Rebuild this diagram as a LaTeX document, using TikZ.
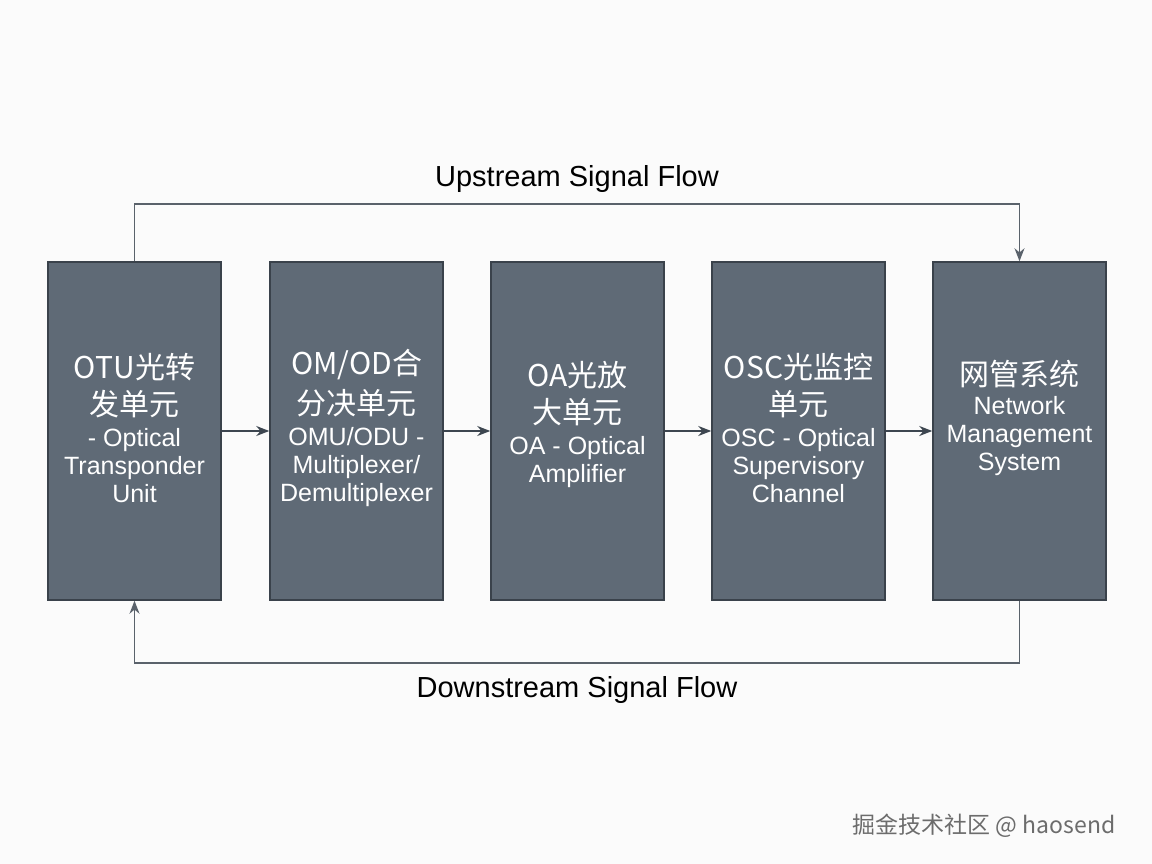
\documentclass[tikz,border=0pt]{standalone}
\usepackage{fontspec}
\setmainfont{Liberation Sans}
\newfontfamily\cjk{Noto Sans CJK SC}
\usetikzlibrary{arrows.meta}
\newcommand\Bt[1]{{\cjk\fontsize{30}{28}\selectfont #1}}
\newcommand\St[1]{{\fontsize{25}{28}\selectfont #1}}
\begin{document}
\begin{tikzpicture}[x=1pt,y=-1pt,
  box/.style={draw=boxline,fill=boxfill,line width=1.5pt,minimum width=173pt,minimum height=338pt,inner sep=0pt},
  txt/.style={text=white,align=center,font=\fontsize{25}{28}\selectfont},
  arr/.style={draw=linecol,line width=1.6pt,-{Stealth[length=13pt,width=10pt]}},
  flow/.style={draw=flowcol,line width=1.2pt,-{Stealth[length=13pt,width=10pt]}}]
\definecolor{boxfill}{HTML}{5F6A76}
\definecolor{boxline}{HTML}{3A424B}
\definecolor{linecol}{HTML}{3D4650}
\definecolor{flowcol}{HTML}{5A626B}
\fill[white!97!gray] (0,0) rectangle (1152,864);
\useasboundingbox (0,0) rectangle (1152,864);
\node[box] (b1) at (134.5,431) {};
\node[box] (b2) at (356.5,431) {};
\node[box] (b3) at (577.5,431) {};
\node[box] (b4) at (798.5,431) {};
\node[box] (b5) at (1019.5,431) {};
\node[txt] (t1) at (134.5,428) {\Bt{OTU光转}\\[9pt]\Bt{发单元}\\[3pt]\St{- Optical}\\\St{Transponder}\\\St{Unit}};
\node[txt] (t2) at (356.5,428) {\Bt{OM/OD合}\\[9pt]\Bt{分决单元}\\[3pt]\St{OMU/ODU -}\\\St{Multiplexer/}\\\St{Demultiplexer}};
\node[txt] (t3) at (577.5,424) {\Bt{OA光放}\\[9pt]\Bt{大单元}\\[3pt]\St{OA - Optical}\\\St{Amplifier}};
\node[txt] (t4) at (798.5,428) {\Bt{OSC光监控}\\[9pt]\Bt{单元}\\[3pt]\St{OSC - Optical}\\\St{Supervisory}\\\St{Channel}};
\node[txt] (t5) at (1019.5,418) {\Bt{网管系统}\\[1pt]\St{Network}\\\St{Management}\\\St{System}};
\draw[arr] (b1.east) -- (b2.west);
\draw[arr] (b2.east) -- (b3.west);
\draw[arr] (b3.east) -- (b4.west);
\draw[arr] (b4.east) -- (b5.west);
\coordinate (u1) at (134.5,204);
\coordinate (u2) at (1019.5,204);
\coordinate (d1) at (1019.5,663);
\coordinate (d2) at (134.5,663);
\draw[flow] (b1.north) -- (u1) -- (u2) -- (b5.north);
\draw[flow] (b5.south) -- (d1) -- (d2) -- (b1.south);
\node[font=\fontsize{29}{32}\selectfont] (up) at (577,179) {Upstream Signal Flow};
\node[font=\fontsize{29}{32}\selectfont] (down) at (577,690) {Downstream Signal Flow};
\node[font=\cjk\fontsize{23}{26}\selectfont,text=gray!85!black] (wm) at (984,826) {掘金技术社区 @ haosend};
\end{tikzpicture}
\end{document}
